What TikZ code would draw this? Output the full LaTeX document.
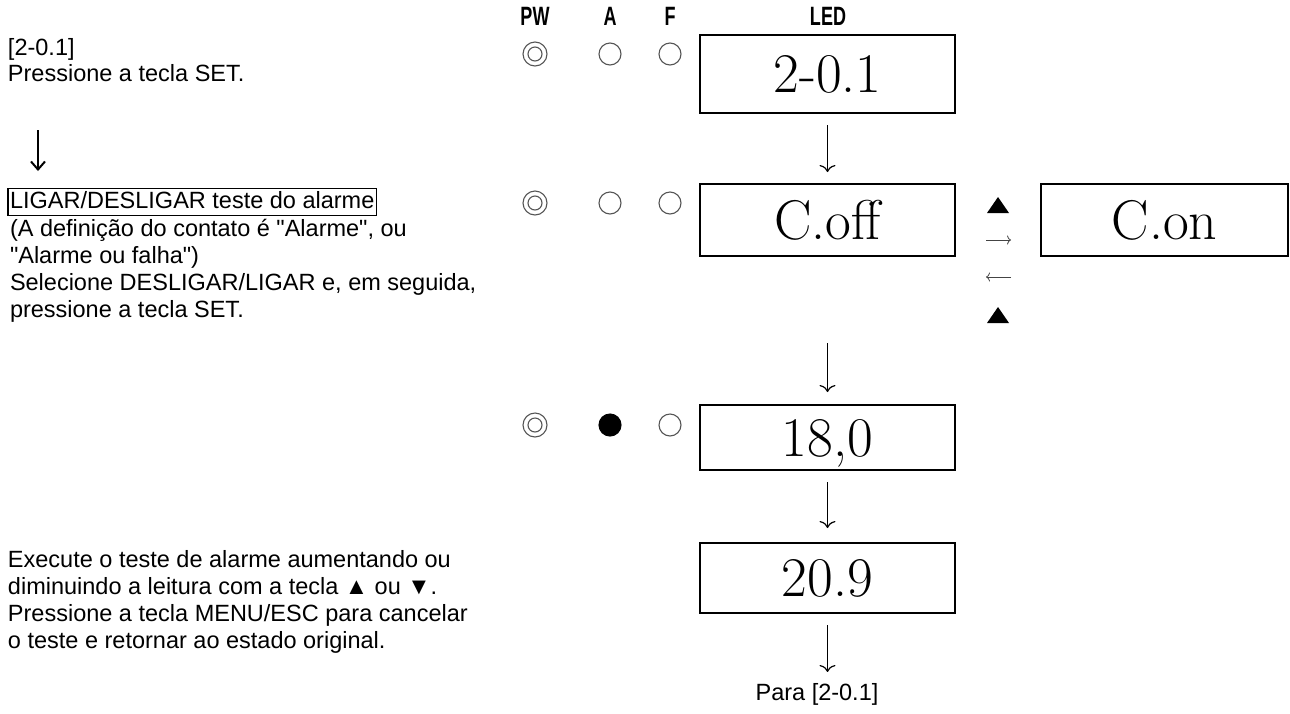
\documentclass[tikz,border=0pt]{standalone}
\usepackage{graphicx}
\usepackage{fontspec}
\newfontfamily\arialf[Ligatures=TeXOff]{Liberation Sans}
\usetikzlibrary{arrows.meta}
\definecolor{lampgray}{HTML}{555555}
\definecolor{sidegray}{HTML}{444444}
\begin{document}
\begin{tikzpicture}[x=1pt,y=-1pt,
  every node/.style={inner sep=0pt, outer sep=0pt},
  body/.style={font=\arialf\fontsize{23.5}{27}\selectfont, anchor=base west},
  hdr/.style={font=\arialf\bfseries\fontsize{26.5}{30}\selectfont},
  led/.style={draw, line width=2.5pt, minimum width=255pt, font=\fontsize{56}{60}\selectfont, text depth=0pt},
  lamp/.style={circle, draw=lampgray, line width=1.1pt, minimum size=22pt},
  flow/.style={line width=1.2pt, -{Computer Modern Rightarrow[length=7pt,width=16pt]}},
  side/.style={draw=sidegray, line width=0.8pt, -{Computer Modern Rightarrow[length=4pt,width=9pt]}},
]
\useasboundingbox (0,0) rectangle (1290,713);

% header
\node[hdr] (hpw) at (535,16.5) {\scalebox{0.68}[1]{PW}};
\node[hdr] (ha) at (610,16.5) {\scalebox{0.68}[1]{A}};
\node[hdr] (hf) at (670,16.5) {\scalebox{0.68}[1]{F}};
\node[hdr] (hled) at (828,16.5) {\scalebox{0.68}[1]{LED}};

% lamps row 1
\node[lamp, minimum size=24pt] (pw1) at (535,54) {};
\draw[lampgray, line width=1.1pt] (pw1.center) circle (7pt);
\node[lamp] (a1) at (610,54) {};
\node[lamp] (f1) at (670,54) {};
% lamps row 2
\node[lamp, minimum size=24pt] (pw2) at (535,203) {};
\draw[lampgray, line width=1.1pt] (pw2.center) circle (7pt);
\node[lamp] (a2) at (610,203) {};
\node[lamp] (f2) at (670,203) {};
% lamps row 3
\node[lamp, minimum size=24pt] (pw3) at (535,425) {};
\draw[lampgray, line width=1.1pt] (pw3.center) circle (7pt);
\node[lamp, draw=black, fill=black] (a3) at (610,425) {};
\node[lamp] (f3) at (670,425) {};

% LED boxes
\node[led, minimum height=78pt] (b1) at (827.5,74) {2-0.1};
\node[led, minimum height=72pt] (b2) at (827.5,220) {C.off};
\node[led, minimum width=247pt, minimum height=72pt] (b2on) at (1164.5,220) {C.on};
\node[led, minimum height=65pt] (b3) at (827.5,437.5) {18,0};
\node[led, minimum height=70pt] (b4) at (827.5,578) {20.9};
\node[body, anchor=base] (para) at (817,700) {Para [2-0.1]};

% flow arrows
\draw[flow, shorten <=12pt, shorten >=12pt] (b1) -- (b2);
\draw[flow, shorten <=87pt, shorten >=13pt] (b2) -- (b3);
\draw[flow, shorten <=12pt, shorten >=15pt] (b3) -- (b4);
\draw[flow, shorten <=12pt, shorten >=11pt] (b4.south) -- (b4.south |- para.north);

% side keys between C.off and C.on
\coordinate (up1) at (998,205);
\coordinate (up2) at (998,315);
\fill (up1) ++(-11,8) -- ++(22,0) -- ++(-11,-16) -- cycle;
\fill (up2) ++(-11,8) -- ++(22,0) -- ++(-11,-16) -- cycle;
\coordinate (r1a) at (986,240);
\coordinate (r1b) at (1011,240);
\coordinate (r2a) at (986,277);
\coordinate (r2b) at (1011,277);
\draw[side] (r1a) -- (r1b);
\draw[side] (r2b) -- (r2a);

% left texts
\node[body] (t1) at (8,55) {[2-0.1]};
\node[body] (t2) at (8,81) {Pressione a tecla SET.};
\coordinate (la1) at (38,130);
\coordinate (la2) at (38,171);
\draw[line width=2pt, -{Straight Barb[length=8pt,width=14pt,line width=2pt]}] (la1) -- (la2);
\node[body, draw, line width=1.5pt, inner xsep=2pt, inner ysep=1.5pt, text height=18pt, text depth=6pt] (t3) at (8,208) {LIGAR/DESLIGAR teste do alarme};
\node[body] (t4) at (10,236) {(A definição do contato é "Alarme", ou};
\node[body] (t5) at (10,263) {"Alarme ou falha")};
\node[body] (t6) at (10,290) {Selecione DESLIGAR/LIGAR e, em seguida,};
\node[body] (t7) at (10,317) {pressione a tecla SET.};

\node[body] (t8) at (8,567) {Execute o teste de alarme aumentando ou};
\node[body] (t9) at (8,594) {diminuindo a leitura com a tecla ▲ ou ▼.};
\node[body] (t10) at (8,621) {Pressione a tecla MENU/ESC para cancelar};
\node[body] (t11) at (8,648) {o teste e retornar ao estado original.};
\end{tikzpicture}
\end{document}
